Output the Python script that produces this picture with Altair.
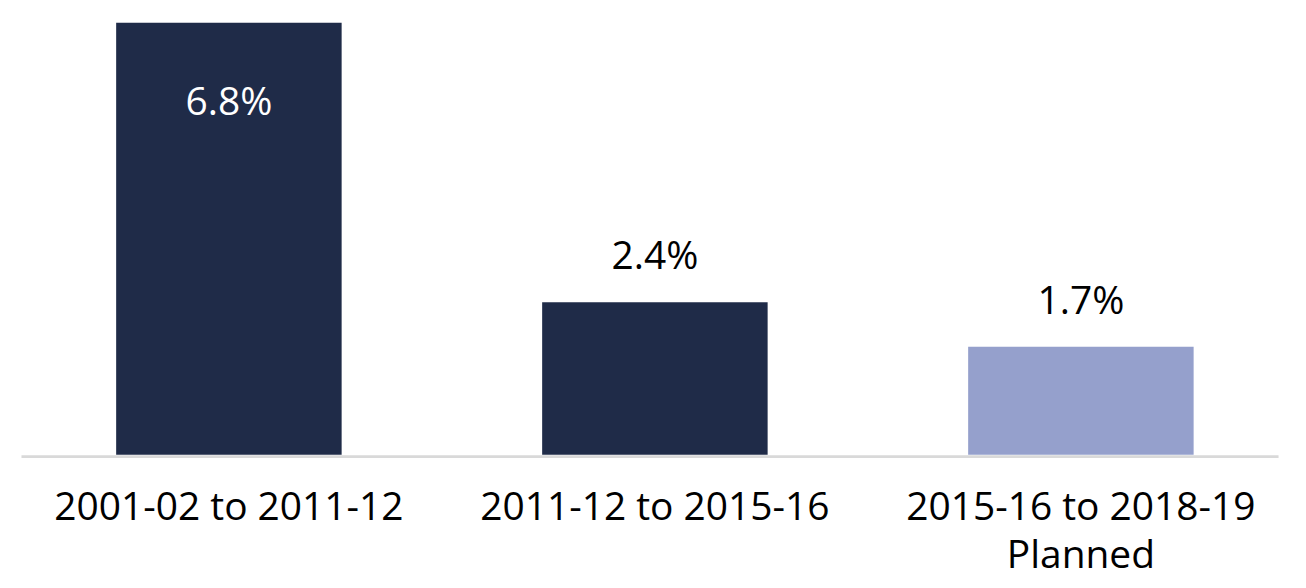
import altair as alt
import pandas as pd

periods = ["2001-02 to 2011-12", "2011-12 to 2015-16", "2015-16 to 2018-19 Planned"]
growth = [6.8, 2.4, 1.7]
kind = ["Actual", "Actual", "Planned"]
label_inside = [True, False, False]

df = pd.DataFrame({
    "period": periods,
    "growth": growth,
    "kind": kind,
    "inside": label_inside,
    "label": [f"{v:.1f}%" for v in growth],
})

label_expr = (
    "datum.value == '2015-16 to 2018-19 Planned' ? ['2015-16 to 2018-19', 'Planned'] : datum.value"
)

FONT = "Open Sans"

x = alt.X(
    "period:N",
    sort=periods,
    title=None,
    scale=alt.Scale(paddingInner=0.4707, paddingOuter=0.2108, align=0.53),
    axis=alt.Axis(
        labelAngle=0,
        labelExpr=label_expr,
        labelFont=FONT,
        labelFontSize=39,
        labelColor="#000000",
        labelLineHeight=48,
        labelPadding=33,
        labelBaseline="top",
        labelLimit=0,
        ticks=False,
        tickSize=0,
        domainColor="#d9d9d9",
        domainWidth=3,
        offset=1.5,
        grid=False,
    ),
)
y = alt.Y("growth:Q", scale=alt.Scale(domain=[0, 6.8], nice=False, zero=True), axis=None)

base = alt.Chart(df)

bars = base.mark_bar(cornerRadius=0).encode(
    x=x,
    y=y,
    color=alt.Color(
        "kind:N",
        scale=alt.Scale(domain=["Actual", "Planned"], range=["#1f2b48", "#95a0cc"]),
        legend=None,
    ),
)

outside = base.transform_filter("!datum.inside").mark_text(
    font=FONT, fontSize=39, color="#000000", baseline="alphabetic", dy=-33
).encode(x=x, y=y, text="label:N")

inside = base.transform_filter("datum.inside").mark_text(
    font=FONT, fontSize=39, color="#ffffff", baseline="alphabetic", dy=93
).encode(x=x, y=y, text="label:N")

chart = (
    alt.layer(bars, outside, inside)
    .properties(
        width=1260,
        height=433,
        background="#ffffff",
        autosize=alt.AutoSizeParams(type="none"),
        padding={"left": 13, "top": 14, "right": 20, "bottom": 130},
    )
    .configure_view(strokeWidth=0, stroke="transparent")
)

chart.save("out.html", embed_options={"renderer": "svg", "actions": False})
